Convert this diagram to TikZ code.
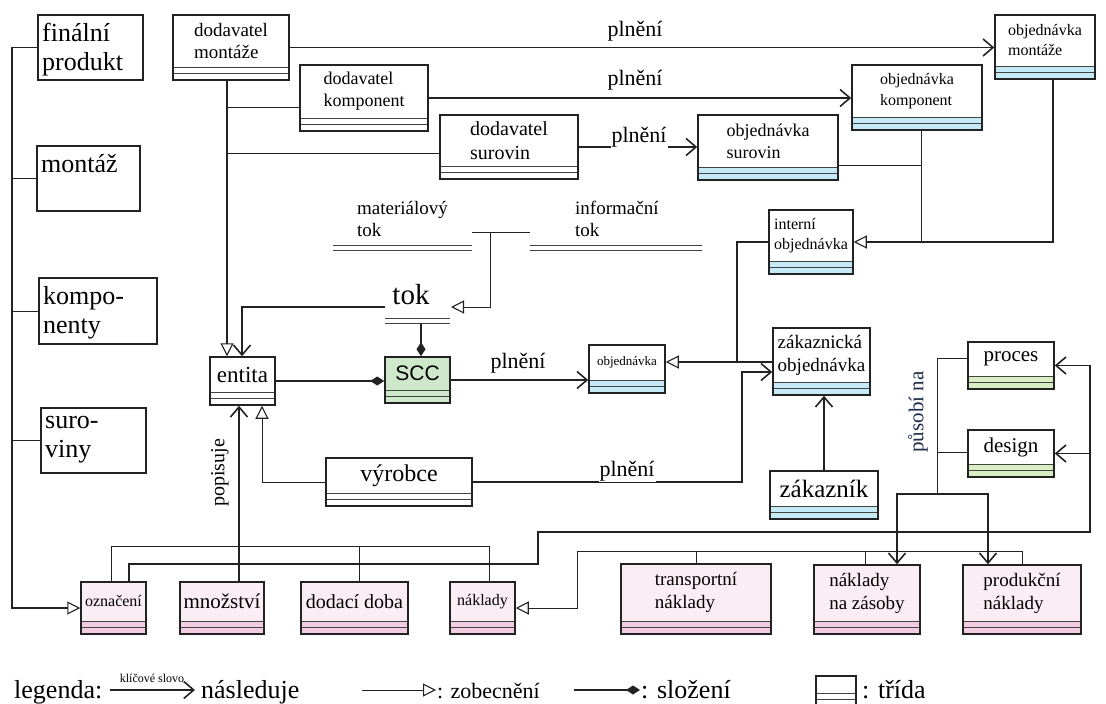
\documentclass[tikz,border=0pt]{standalone}
\usepackage{fontspec}
\setmainfont{Liberation Serif}
\newfontfamily\arialf{Liberation Sans}
\usetikzlibrary{arrows.meta,fit}
\definecolor{ink}{HTML}{222222}
\definecolor{cblue}{HTML}{C6EAF5}
\definecolor{cgreen}{HTML}{CFE8CC}
\definecolor{cgreenl}{HTML}{D8EEC2}
\definecolor{cpink}{HTML}{F2CDE1}
\definecolor{cpinkl}{HTML}{FBEDF4}
\definecolor{navy}{HTML}{1C2B4A}
\newcommand\fs[2]{\fontsize{#1}{#2}\selectfont}
% name, x1, y1, x2, y2, body fill, stripe fill, font, text
\newcommand\umlbox[9]{%
  \fill[#6] (#2,#3) rectangle (#4,#5);
  \fill[#7] (#2,#5-13) rectangle (#4,#5);
  \draw[stripe] (#2,#5-13) -- (#4,#5-13) (#2,#5-6.5) -- (#4,#5-6.5);
  \node[frame, fit={(#2,#3)(#4,#5)}] (#1) {};
  \node[align=left, inner sep=0pt, font=#8] (#1-t) at ({(#2+#4)/2},{(#3+#5-13)/2}) {#9};
}
\newcommand\plainbox[6]{%
  \node[frame, fit={(#2,#3)(#4,#5)}] (#1) {};
  \node[anchor=north west, align=left, inner sep=0pt, font=\fs{26}{29}] (#1-t) at (#2+4,#3+8) {#6};
}
\begin{document}
\begin{tikzpicture}[x=1pt,y=-1pt,
  frame/.style={draw=ink, line width=1.5pt, inner sep=0pt},
  stripe/.style={draw=ink!85, line width=0.8pt},
  wire/.style={draw=ink, line width=1.6pt},
  thin/.style={draw=ink, line width=1.0pt},
  follow/.style={wire, -{Straight Barb[length=10pt,width=17pt,line width=1.6pt]}},
  gen/.style={thin, -{Triangle[open,length=13pt,width=13pt,line width=1.1pt]}},
  comp/.style={wire, -{Diamond[length=14pt,width=9pt]}},
  lbl/.style={inner sep=1pt, font=\fs{22}{24}},
  lblw/.style={lbl, fill=white},
]
\useasboundingbox (0,0) rectangle (1106,704);

% ---------- left column ----------
\plainbox{fp}{38}{15}{143}{80}{finální\\produkt}
\plainbox{mo}{37}{146}{140}{211}{montáž}
\plainbox{ko}{39}{278}{157}{344}{kompo-\\nenty}
\plainbox{su}{41}{408}{146}{473}{suro-\\viny}

% ---------- classes ----------
\umlbox{dm}{173}{15}{289}{80}{white}{white}{\fs{19}{22}}{dodavatel\\montáže}
\umlbox{dk}{300}{65}{428}{131}{white}{white}{\fs{18}{22}}{dodavatel\\komponent}
\umlbox{ds}{440}{115}{578}{179}{white}{white}{\fs{20}{24}}{dodavatel\\surovin}
\umlbox{om}{995}{15}{1095}{79}{white}{cblue}{\fs{16}{20}}{objednávka\\montáže}
\umlbox{ok}{852}{65}{982}{130}{white}{cblue}{\fs{16}{21}}{objednávka\\komponent}
\umlbox{os}{698}{115}{838}{180}{white}{cblue}{\fs{18}{22}}{objednávka\\surovin}
\umlbox{io}{769}{210}{853}{274}{white}{cblue}{\fs{16}{20}}{interní\\objednávka}

\umlbox{en}{210}{357}{275}{405}{white}{white}{\fs{23}{25}}{entita}
\umlbox{scc}{385}{357}{450}{403}{cgreen}{cgreen}{\arialf\fs{21}{24}}{SCC}
\umlbox{ob}{589}{345}{665}{393}{white}{cblue}{\fs{13}{15}}{objednávka}
\umlbox{zo}{773}{328}{870}{395}{white}{cblue}{\fs{19}{23}}{zákaznická\\objednávka}
\umlbox{vy}{326}{458}{472}{506}{white}{white}{\fs{24}{26}}{výrobce}
\umlbox{zk}{770}{471}{878}{519}{white}{cblue}{\fs{25}{27}}{zákazník}
\umlbox{pr}{968}{342}{1054}{389}{white}{cgreenl}{\fs{21}{24}}{proces}
\umlbox{de}{968}{430}{1054}{477}{white}{cgreenl}{\fs{21}{24}}{design}

\umlbox{oz}{81}{582}{146}{634}{cpinkl}{cpink}{\fs{16}{18}}{označení}
\umlbox{mn}{180}{582}{264}{634}{cpinkl}{cpink}{\fs{21}{24}}{množství}
\umlbox{dd}{301}{582}{408}{634}{cpinkl}{cpink}{\fs{20}{23}}{dodací doba}
\umlbox{nk}{450}{582}{515}{634}{cpinkl}{cpink}{\fs{16}{18}}{náklady}
\umlbox{tn}{621}{564}{771}{634}{cpinkl}{cpink}{\fs{19}{23}}{transportní\\náklady}
\umlbox{nz}{814}{565}{920}{634}{cpinkl}{cpink}{\fs{19}{23}}{náklady\\na zásoby}
\umlbox{pn}{963}{565}{1081}{634}{cpinkl}{cpink}{\fs{19}{23}}{produkční\\náklady}

% ---------- tok / material & information flow ----------
\node[font=\fs{29}{31}, inner sep=0pt] (tok) at (411,295) {tok};
\draw[stripe] (385,318) -- (450,318) (385,323) -- (450,323);
\node[anchor=north west, align=left, inner sep=0pt, font=\fs{19}{22}] (mt) at (357,201) {materiálový\\tok};
\node[anchor=north west, align=left, inner sep=0pt, font=\fs{19}{22}] (it) at (575,201) {informační\\tok};
\draw[stripe] (333,245) -- (472,245) (333,250) -- (472,250);
\draw[stripe] (530,245) -- (702,245) (530,250) -- (702,250);

% ---------- coordinates ----------
\coordinate (vZ) at (12,0);
\coordinate (vA) at (227,0);
\coordinate (hA1) at (0,107);
\coordinate (hA2) at (0,153);
\coordinate (vB) at (921,0);
\coordinate (vC) at (1053,0);
\coordinate (hB) at (0,165);
\coordinate (vD) at (737,0);
\coordinate (hD) at (0,362);
\coordinate (vE) at (742,0);
\coordinate (hE) at (0,372);
\coordinate (vF) at (242,0);
\coordinate (vG) at (262,0);
\coordinate (vH) at (239,0);
\coordinate (tokL) at (385,307);
\coordinate (tokR) at (451,307);
\coordinate (tokB) at (421,323);
\coordinate (tA) at (472,232);
\coordinate (tB) at (530,232);
\coordinate (tJ) at (490,232);
\coordinate (b1) at (111,0);
\coordinate (b2) at (129,0);
\coordinate (b3) at (359,0);
\coordinate (b4) at (489,0);
\coordinate (hb1) at (0,546);
\coordinate (hb2) at (0,564);
\coordinate (vJ) at (538,0);
\coordinate (hJ) at (0,532);
\coordinate (vK) at (1090,0);
\coordinate (vL) at (577,0);
\coordinate (hL) at (0,551);
\coordinate (c1) at (696,0);
\coordinate (c2) at (865,0);
\coordinate (c3) at (1022,0);
\coordinate (vM) at (937,0);
\coordinate (hM) at (0,494);
\coordinate (pA) at (897,0);
\coordinate (pB) at (988,0);
\coordinate (hP) at (0,358);
\coordinate (hQ) at (0,452);

% ---------- connectors ----------
% left bus
\draw[gen, line width=1.3pt] (fp.west) -| (vZ |- oz.west) -- (oz.west);
\draw[thin] (mo.west) -- (mo.west -| vZ);
\draw[thin] (ko.west) -- (ko.west -| vZ);
\draw[thin] (su.west) -- (su.west -| vZ);

% fulfilment arrows
\draw[follow] (dm.east) -- (dm.east -| om.west);
\node[lbl] (l1) at (635,31) {plnění};
\draw[follow] (dk.east) -- (dk.east -| ok.west);
\node[lbl] (l2) at (635,80) {plnění};
\draw[follow] (ds.east) -- (ds.east -| os.west);
\node[lblw] (l3) at (639,137) {plnění};

% supplier bus to entita
\draw[gen, line width=1.3pt] (dm.south -| vA) -- (en.north -| vA);
\draw[thin] (vA |- hA1) -- (dk.west |- hA1);
\draw[thin] (vA |- hA2) -- (ds.west |- hA2);

% orders to internal order
\draw[gen, line width=1.2pt] (om.south -| vC) |- (io.east);
\draw[thin] (ok.south -| vB) -- (vB |- io.east);
\draw[thin] (os.east |- hB) -- (vB |- hB);
\draw[thin, line width=1.2pt] (io.west) -| (vD |- hD);
\draw[gen, line width=1.2pt] (zo.west |- hD) -- (ob.east |- hD);

% výrobce fulfilment
\draw[follow] (vy.east) -| (vE |- hE) -- (zo.west |- hE);
\node[lblw] (l5) at (627,471) {plnění};
\draw[follow] (zk.north) -- (zk.north |- zo.south);

% entita, SCC, tok
\draw[comp] (en.east) -- (en.east -| scc.west);
\draw[follow] (scc.east) -- (scc.east -| ob.west);
\node[lbl] (l4) at (518,363) {plnění};
\draw[follow] (tokL) -| (en.north -| vF);
\draw[comp] (tokB) -- (tokB |- scc.north);
\draw[thin] (tA) -- (tB);
\draw[gen] (tJ) |- (tokR);
\draw[gen] (vy.west) -| (en.south -| vG);

% popisuje
\draw[follow] (mn.north -| vH) -- (en.south -| vH);
\node[rotate=90, font=\fs{20}{22}, inner sep=0pt] (pop) at (220,473) {popisuje};

% bottom bus 1
\draw[thin] (oz.north -| b1) |- (b4 |- hb1) -- (nk.north -| b4);
\draw[thin] (b3 |- hb1) -- (dd.north -| b3);

% bottom bus 2 to proces / design
\draw[follow, line width=1.3pt] (oz.north -| b2) |- (vJ |- hb2) |- (vK |- hJ) |- (pr.east);
\draw[follow, line width=1.3pt] (vK |- de.east) -- (de.east);

% cost bus
\draw[gen] (pn.north -| c3) |- (vL |- hL) |- (nk.east);
\draw[thin] (tn.north -| c1) -- (c1 |- hL);
\draw[thin] (nz.north -| c2) -- (c2 |- hL);

% působí na
\draw[thin] (pr.west |- hP) -| (vM |- hM);
\draw[thin] (de.west |- hQ) -- (vM |- hQ);
\draw[follow] (vM |- hM) -| (nz.north -| pA);
\draw[follow] (vM |- hM) -| (pn.north -| pB);
\node[rotate=90, font=\fs{21}{23}, text=navy, inner sep=0pt] (pna) at (918,412) {působí na};

% ---------- legend ----------
\node[anchor=base west, inner sep=0pt, font=\fs{26}{28}] (lg) at (14,698) {legenda:};
\coordinate (la1) at (110,690);
\coordinate (la2) at (195,690);
\draw[follow] (la1) -- (la2);
\node[font=\fs{12}{14}, inner sep=0pt] (kw) at (152,678) {klíčové slovo};
\node[anchor=base west, inner sep=0pt, font=\fs{26}{28}] (lfol) at (201,698) {následuje};
\coordinate (lb1) at (362,690);
\coordinate (lb2) at (436,690);
\draw[gen] (lb1) -- (lb2);
\node[anchor=base west, inner sep=0pt, font=\fs{22}{24}] (lgen) at (437,698) {: zobecnění};
\coordinate (lc1) at (574,690);
\coordinate (lc2) at (640,690);
\draw[comp] (lc1) -- (lc2);
\node[anchor=base west, inner sep=0pt, font=\fs{26}{28}] (lcomp) at (641,698) {: složení};
\umlbox{lic}{816}{676}{856}{706}{white}{white}{\fs{10}{10}}{}
\node[anchor=base west, inner sep=0pt, font=\fs{26}{28}] (lcls) at (862,698) {: třída};
\end{tikzpicture}
\end{document}
